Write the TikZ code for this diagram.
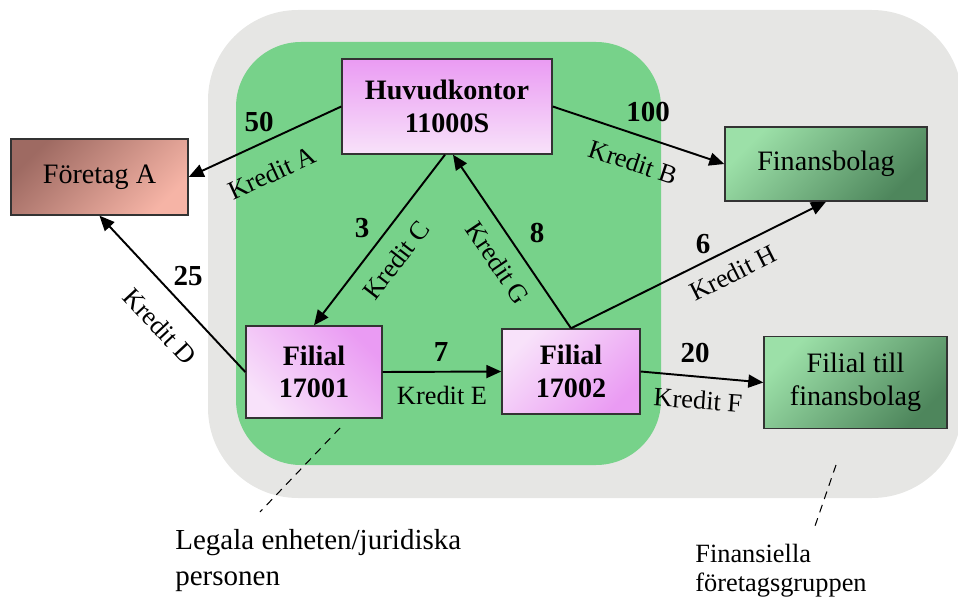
\documentclass[tikz,border=0pt]{standalone}
\usepackage{fontspec}
\setmainfont{Liberation Serif}
\usetikzlibrary{positioning}
\usetikzlibrary{arrows.meta}
\definecolor{group-grey}{RGB}{230,230,228}
\definecolor{legal-green}{RGB}{119,210,138}
\definecolor{office-dark}{RGB}{234,155,243}
\definecolor{office-light}{RGB}{248,226,250}
\definecolor{firm-dark}{RGB}{158,106,98}
\definecolor{firm-light}{RGB}{246,180,166}
\definecolor{fin-light}{RGB}{156,224,168}
\definecolor{fin-dark}{RGB}{78,134,92}
\tikzset{
  unit/.style={draw=black!80, line width=0.8pt, inner sep=0pt, align=center,
    font=\fontsize{16}{19}\selectfont},
  office/.style={unit, font=\fontsize{16}{18.5}\selectfont\bfseries},
  credit/.style={-{Triangle[length=3mm,width=2.6mm]}, line width=1.1pt},
  amount/.style={font=\fontsize{16.5}{19}\selectfont\bfseries, inner sep=0pt},
  creditlabel/.style={font=\fontsize{15}{18}\selectfont, inner sep=0pt},
  note/.style={font=\fontsize{16.5}{20.5}\selectfont, align=left, inner sep=0pt, anchor=north west},
  pointer/.style={dash pattern=on 4.5pt off 3.5pt, line width=0.6pt}
}
\begin{document}
\begin{tikzpicture}[x=0.2mm, y=-0.2mm]
\useasboundingbox (0,0) rectangle (958,597);

% groups
\fill[group-grey, rounded corners=18mm] (208,10) rectangle (962,498);
\fill[legal-green, rounded corners=13mm] (236,42) rectangle (661,465);

% units
\node[office, minimum width=42mm, minimum height=19mm, top color=office-dark, bottom color=office-light] (hq) at (447,106.5) {Huvudkontor\\11000S};
\node[unit, minimum width=35.4mm, minimum height=15.2mm, top color=firm-dark, bottom color=firm-light, shading angle=45] (firmA) at (99.5,177) {Företag A};
\node[unit, minimum width=40.4mm, minimum height=14.8mm, top color=fin-light, bottom color=fin-dark, shading angle=45] (finco) at (826,164) {Finansbolag};
\node[office, minimum width=27.2mm, minimum height=18.4mm, top color=office-dark, bottom color=office-light, shading angle=-45] (branchA) at (314,372) {Filial\\17001};
\node[office, minimum width=27.6mm, minimum height=17mm, top color=office-light, bottom color=office-dark, shading angle=45] (branchB) at (571,371.5) {Filial\\17002};
\node[unit, minimum width=36.6mm, minimum height=18.4mm, top color=fin-light, bottom color=fin-dark, shading angle=45] (finbranch) at (855.5,382.5) {Filial till\\finansbolag};

% credits
\draw[credit] (hq.west) -- (firmA.east);
\draw[credit] (hq.east) -- (finco.west);
\draw[credit] ([xshift=-0.4mm]hq.south) -- (branchA.north);
\draw[credit] (branchB.north) -- ([xshift=1.2mm]hq.south);
\draw[credit] (branchB.north) -- (finco.south);
\draw[credit] (branchA.west) -- (firmA.south);
\draw[credit] (branchA.east) -- (branchB.west);
\draw[credit] (branchB.east) -- (finbranch.west);

\node[amount] (amtA) at (259,122) {50};
\node[creditlabel, rotate=24.6] (lblA) at (272,173) {Kredit A};
\node[amount] (amtB) at (648,112) {100};
\node[creditlabel, rotate=-18.4] (lblB) at (633,162) {Kredit B};
\node[amount] (amtC) at (362,228) {3};
\node[creditlabel, rotate=52.3] (lblC) at (396,260) {Kredit C};
\node[amount] (amtD) at (188,276) {25};
\node[creditlabel, rotate=-47] (lblD) at (160,326) {Kredit D};
\node[amount] (amtE) at (441,352) {7};
\node[creditlabel] (lblE) at (442,395) {Kredit E};
\node[amount] (amtF) at (695,353) {20};
\node[creditlabel, rotate=-4] (lblF) at (698,400) {Kredit F};
\node[amount] (amtG) at (537,233) {8};
\node[creditlabel, rotate=-56] (lblG) at (498,263) {Kredit G};
\node[amount] (amtH) at (703,244) {6};
\node[creditlabel, rotate=26.7] (lblH) at (733,273) {Kredit H};

% notes
\coordinate (legalTip) at (340,428);
\coordinate (legalEnd) at (260,512);
\draw[pointer] (legalTip) -- (legalEnd);
\node[note] (legalNote) at (175,529) {Legala enheten/juridiska\\personen};

\coordinate (groupTip) at (836,465);
\coordinate (groupEnd) at (815,526);
\draw[pointer] (groupTip) -- (groupEnd);
\node[note, font=\fontsize{15}{16.5}\selectfont] (groupNote) at (695,544) {Finansiella\\företagsgruppen};

\end{tikzpicture}
\end{document}
